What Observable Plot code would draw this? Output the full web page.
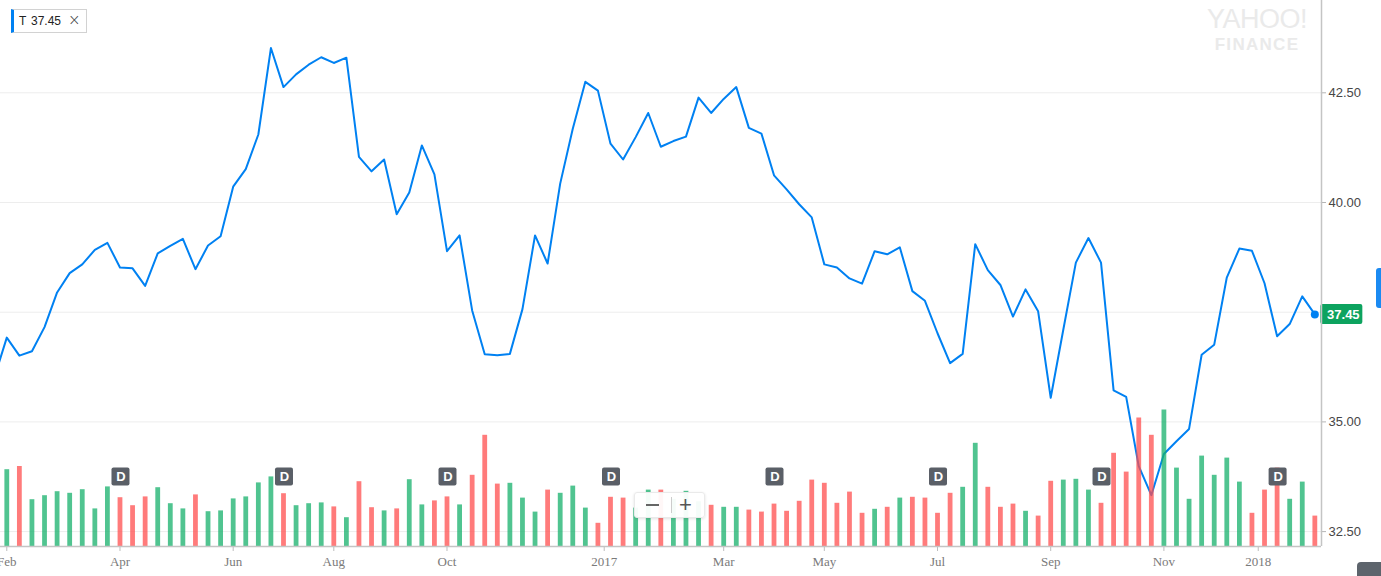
<!DOCTYPE html>
<html>
<head>
<meta charset="utf-8">
<script src="https://cdn.jsdelivr.net/npm/d3@7"></script>
<script src="https://cdn.jsdelivr.net/npm/@observablehq/plot@0.6"></script>
<style>
html, body { margin: 0; padding: 0; background: #fff; }
#wrap { position: relative; width: 1381px; height: 576px; overflow: hidden; font-family: "Liberation Sans", Arial, sans-serif; }
#wrap > svg, #wrap > figure { position: absolute; left: 0; top: 0; margin: 0; }
#legend { position: absolute; left: 11px; top: 9px; width: 72px; height: 22px; border: 1px solid #d2d2d2; border-left: 3px solid #0081f2; background: #fff; font-size: 12px; color: #222; }
#legend .sym { position: absolute; left: 5px; top: 4px; }
#legend .val { position: absolute; left: 17px; top: 4px; }
#legend .x { position: absolute; left: 54px; top: 1px; font-size: 15px; color: #444; font-weight: 300; font-family: "DejaVu Sans", sans-serif; }
#brand { position: absolute; left: 1203px; top: 6px; width: 108px; text-align: center; color: #eaeaea; line-height: 1; }
#brand .y { font-size: 27px; letter-spacing: -0.5px; display: block; font-family: "Liberation Sans", Arial, sans-serif; }
#brand .f { font-size: 17px; font-weight: bold; letter-spacing: 1.3px; display: block; margin-top: 3px; }
#zoomctl { position: absolute; left: 634px; top: 492px; width: 69px; height: 24px; background: rgba(255,255,255,0.94); border: 1px solid #eaeaea; border-radius: 3px; box-shadow: 0 1px 3px rgba(0,0,0,0.12); color: #555; }
#zoomctl .m { position: absolute; left: 11px; top: 11px; width: 13px; height: 2px; background: #666; }
#zoomctl .sep { position: absolute; left: 36px; top: 4px; width: 1px; height: 16px; background: #ccc; }
#zoomctl .p { position: absolute; left: 44px; top: -1px; font-size: 22px; font-weight: 300; color: #555; }
#sidebar { position: absolute; left: 1376px; top: 268px; width: 6px; height: 40px; background: #1a8af2; border-radius: 3px 0 0 3px; }
#corner { position: absolute; left: 1357px; top: 562px; width: 26px; height: 16px; background: #5d646c; border-radius: 4px 0 0 0; }
</style>
</head>
<body>
<div id="wrap"></div>
<script>
// ---- data (AT&T "T", weekly) ----
const symbol = "T";
// weekly closes; first value is the week before the first volume bar
const closes = [
  36.00,
  36.92, 36.51, 36.61, 37.16, 37.95, 38.39, 38.59, 38.92, 39.08, 38.52,
  38.50, 38.10, 38.84, 39.01, 39.17, 38.48, 39.02, 39.23, 40.36, 40.76,
  41.55, 43.52, 42.63, 42.92, 43.14, 43.31, 43.18, 43.30, 41.04, 40.71,
  40.98, 39.73, 40.23, 41.30, 40.64, 38.89, 39.25, 37.54, 36.54, 36.52,
  36.55, 37.57, 39.25, 38.61, 40.43, 41.68, 42.75, 42.55, 41.34, 40.98,
  41.49, 42.04, 41.27, 41.40, 41.50, 42.39, 42.04, 42.36, 42.63, 41.70,
  41.57, 40.62, 40.30, 39.96, 39.66, 38.59, 38.52, 38.27, 38.15, 38.89,
  38.82, 38.98, 37.98, 37.76, 37.02, 36.34, 36.55, 39.05, 38.46, 38.12,
  37.40, 38.02, 37.52, 35.55, 37.10, 38.63, 39.19, 38.63, 35.72, 35.57,
  33.99, 33.33, 34.27, 34.56, 34.84, 36.53, 36.76, 38.29, 38.95, 38.90,
  38.16, 36.95, 37.23, 37.86, 37.45
];
// weekly volume, millions of shares
const volumes = [
  192, 200, 117, 127, 137, 133, 142, 94, 149, 122,
  102, 124, 147, 107, 94, 129, 87, 89, 119, 124,
  159, 174, 132, 102, 107, 109, 99, 72, 162, 97,
  89, 94, 167, 104, 114, 124, 104, 178, 278, 156,
  158, 121, 86, 141, 133, 151, 96, 58, 123, 121,
  96, 141, 141, 118, 138, 112, 103, 98, 98, 91,
  86, 106, 88, 113, 166, 158, 108, 136, 83, 93,
  98, 121, 123, 121, 83, 133, 148, 258, 148, 98,
  106, 88, 76, 163, 166, 168, 141, 108, 233, 186,
  321, 278, 341, 196, 118, 226, 178, 221, 161, 83,
  141, 196, 118, 161, 76
];
const dividendWeeks = [9, 22, 35, 48, 61, 74, 87, 101];
const tickWeeks = [0, 9, 18, 26, 35, 47.5, 57, 65, 74, 83, 92, 99.5];
const tickLabels = ["Feb", "Apr", "Jun", "Aug", "Oct", "2017", "Mar", "May", "Jul", "Sep", "Nov", "2018"];
const priceTicks = [32.5, 35, 37.5, 40, 42.5];

// ---- derived tables ----
const priceRows = closes.map((c, k) => ({week: k - 1, close: c}));
const volRows = volumes.map((v, i) => ({week: i, volume: v, up: closes[i + 1] >= closes[i]}));
const last = priceRows[priceRows.length - 1];
const labelMap = new Map(tickWeeks.map((w, i) => [w, tickLabels[i]]));
const fmt = d3.format(".2f");

const W = 1381, H = 576;
const common = {
  width: W, height: H,
  marginLeft: 0, marginRight: 60, marginTop: 0, marginBottom: 30
};
const xScale = {domain: [-0.5, 104.53]};

const pricePlot = Plot.plot({
  ...common,
  style: {background: "#fff", overflow: "visible"},
  x: {...xScale},
  y: {domain: [32.5, 42.5], range: [531.1, 92.3]},
  marks: [
    Plot.gridY(priceTicks, {stroke: "#ededed", strokeOpacity: 1}),
    Plot.axisY(priceTicks, {anchor: "right", label: null, tickFormat: fmt, tickSize: 4, tickPadding: 3,
      fontSize: 13, fontFamily: "Liberation Sans, Arial, sans-serif", fill: "#464646", stroke: "#b5b5b5"}),
    Plot.axisX(tickWeeks, {anchor: "bottom", label: null, tickFormat: d => labelMap.get(d), tickSize: 5, tickPadding: 5,
      fontSize: 13, fontFamily: "Liberation Serif, Times New Roman, serif", fill: "#7a7a7a", stroke: "#bdbdbd"}),
    Plot.line(priceRows, {x: "week", y: "close", stroke: "#0081f2", strokeWidth: 2, clip: true}),
    Plot.dot([last], {x: "week", y: "close", r: 4, fill: "#0081f2"}),
    Plot.rect([last], {x1: "week", x2: "week", y1: "close", y2: "close",
      insetLeft: 6, insetRight: -48, insetTop: -10, insetBottom: -10, fill: "#0da35f", rx: 2}),
    Plot.text([last], {x: "week", y: "close", text: d => fmt(d.close), dx: 28.5, fill: "#fff",
      fontWeight: "bold", fontSize: 13, fontFamily: "Liberation Sans, Arial, sans-serif"})
  ]
});

const volPlot = Plot.plot({
  ...common,
  style: {background: "transparent", overflow: "visible"},
  x: {...xScale, axis: null},
  y: {domain: [0, 400], range: [546, 386], axis: null},
  marks: [
    Plot.ruleX(volRows, {filter: d => d.up, x: "week", y1: 0, y2: "volume", stroke: "#16b06b", strokeOpacity: 0.75, strokeWidth: 4.8}),
    Plot.ruleX(volRows, {filter: d => !d.up, x: "week", y1: 0, y2: "volume", stroke: "#ff4f4f", strokeOpacity: 0.75, strokeWidth: 4.8}),
    Plot.ruleX([0], {x: () => xScale.domain[1], stroke: "#c4c4c4", strokeWidth: 1.5}),
    Plot.ruleY([0], {stroke: "#c4c4c4", strokeWidth: 1.5}),
    Plot.rect(dividendWeeks, {x1: d => d, x2: d => d, insetLeft: -8, insetRight: -10, insetTop: 467.5, insetBottom: 60.5,
      fill: "#5a5f67", rx: 2}),
    Plot.text(dividendWeeks, {x: d => d, text: () => "D", frameAnchor: "bottom", dy: -69.5, dx: 1, lineAnchor: "middle",
      fill: "#fff", fontWeight: "bold", fontSize: 13, fontFamily: "Liberation Sans, Arial, sans-serif"})
  ]
});

const wrap = document.getElementById("wrap");
wrap.appendChild(pricePlot);
wrap.appendChild(volPlot);

// overlays
wrap.insertAdjacentHTML("beforeend", `
  <div id="legend"><span class="sym">${symbol}</span><span class="val">${fmt(last.close)}</span><span class="x">\u00d7</span></div>
  <div id="brand"><span class="y">YAHOO!</span><span class="f">FINANCE</span></div>
  <div id="zoomctl"><span class="m"></span><span class="sep"></span><span class="p">+</span></div>
  <div id="sidebar"></div>
  <div id="corner"></div>
`);
</script>
</body>
</html>
